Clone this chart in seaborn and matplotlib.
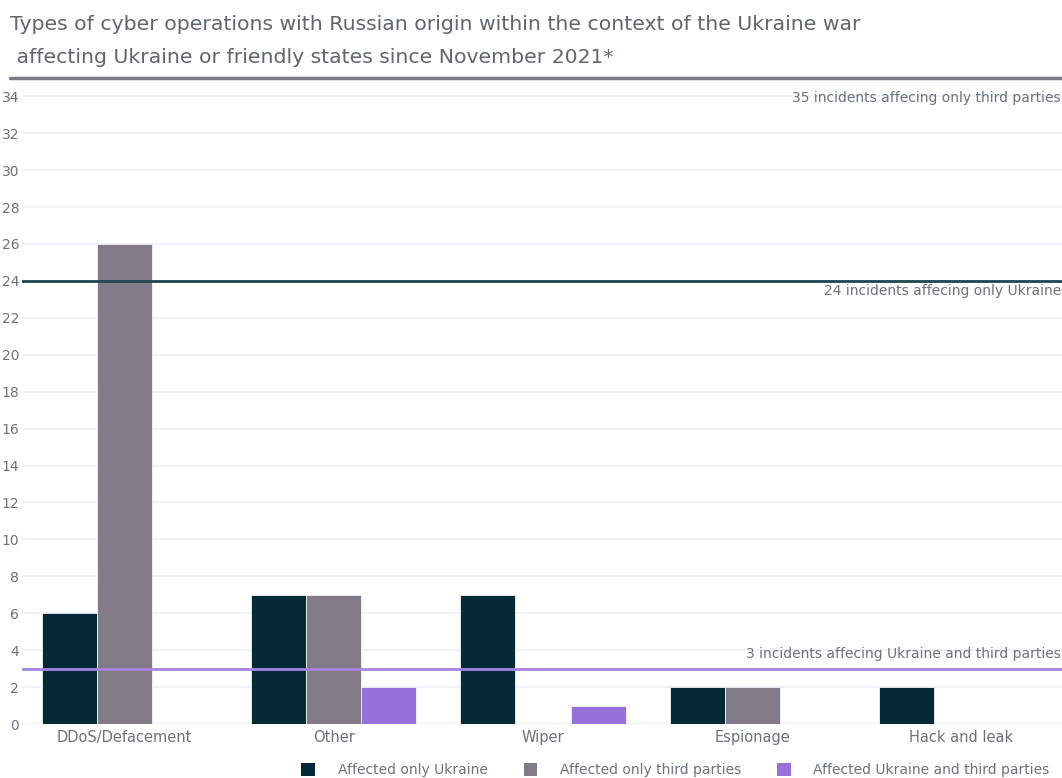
import matplotlib
matplotlib.use("Agg")
import matplotlib.pyplot as plt
import seaborn as sns
import pandas as pd
from matplotlib.patches import Patch

categories = ["DDoS/Defacement", "Other", "Wiper", "Espionage", "Hack and leak"]
only_ukraine = [6, 7, 7, 2, 2]
only_third = [26, 7, 0, 2, 0]
both = [0, 2, 1, 0, 0]
series_names = ["Affected only Ukraine", "Affected only third parties",
                "Affected Ukraine and third parties"]
totals = [24, 35, 3]
total_labels = ["24 incidents affecing only Ukraine",
                "35 incidents affecing only third parties",
                "3 incidents affecing Ukraine and third parties"]
y_ticks = list(range(0, 35, 2))

colors = ["#032a35", "#827a86", "#9670db"]
total_colors = ["#1d4650", "#7d7986", "#a485e3"]
text_color = "#6b7180"

rows = []
for name, vals in zip(series_names, [only_ukraine, only_third, both]):
    for cat, v in zip(categories, vals):
        rows.append({"category": cat, "series": name, "count": v})
df = pd.DataFrame(rows)

sns.set_theme(style="white")
plt.rcParams["font.family"] = ["DejaVu Sans"]

fig = plt.figure(figsize=(10.62, 7.78), dpi=100)
ax = fig.add_axes([0.0207, 0.0694, 0.9793, 0.8306])

sns.barplot(data=df, x="category", y="count", hue="series", order=categories,
            hue_order=series_names, palette=colors, width=0.79, dodge=True,
            edgecolor="#f4f4f6", linewidth=0.6, errorbar=None, legend=False,
            saturation=1, ax=ax, zorder=2)

ax.set_xlim(-0.49, 4.48)
ax.set_ylim(0, 35)
ax.set_yticks(y_ticks)
ax.grid(axis="y", color="#ebeff7", linewidth=1.2, zorder=0)
ax.set_axisbelow(True)
for s in ax.spines.values():
    s.set_visible(False)
ax.set_xlabel("")
ax.set_ylabel("")
ax.tick_params(axis="y", labelsize=10, colors=text_color, pad=2, length=0)
ax.tick_params(axis="x", labelsize=10.5, colors=text_color, pad=4, length=0)
for lab in ax.get_yticklabels():
    lab.set_horizontalalignment("right")

# reference lines for the totals of each series
ax.axhline(totals[0], color=total_colors[0], lw=2, zorder=3)
ax.axhline(totals[1], color=total_colors[1], lw=2.5, zorder=3, clip_on=False,
           xmin=-0.012)
ax.axhline(totals[2], color=total_colors[2], lw=2, zorder=3)

ax.text(4.475, totals[0] - 0.55, total_labels[0], ha="right", va="center",
        fontsize=10, color=text_color)
ax.text(4.475, totals[1] - 1.1, total_labels[1], ha="right", va="center",
        fontsize=10, color=text_color)
ax.text(4.475, totals[2] + 0.8, total_labels[2], ha="right", va="center",
        fontsize=10, color=text_color)

fig.text(0.0095, 0.968, "Types of cyber operations with Russian origin within the context of the Ukraine war",
         fontsize=14.7, color="#5f6573", ha="left", va="center")
fig.text(0.0095, 0.926, " affecting Ukraine or friendly states since November 2021*",
         fontsize=14.7, color="#5f6573", ha="left", va="center")

handles = [Patch(facecolor=c, edgecolor="none") for c in colors]
fig.legend(handles, series_names, loc="center", bbox_to_anchor=(0.636, 0.01),
           ncol=3, frameon=False, fontsize=10, labelcolor=text_color,
           handlelength=1.0, handleheight=1.0, handletextpad=1.6,
           columnspacing=2.6)

fig.savefig("out.png", dpi=100)
